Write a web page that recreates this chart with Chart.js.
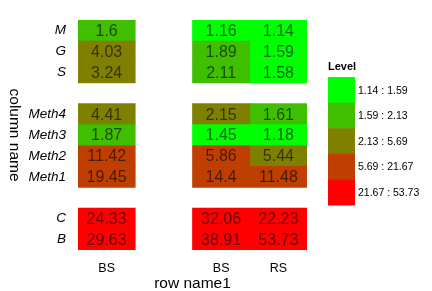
<!DOCTYPE html>
<html>
<head>
<meta charset="utf-8">
<script src="https://cdn.jsdelivr.net/npm/chart.js@4/dist/chart.umd.min.js"></script>
<style>
  html, body { margin: 0; padding: 0; background: #ffffff; }
  #wrap { width: 432px; height: 291px; }
</style>
</head>
<body>
<div id="wrap"><canvas id="c" width="432" height="291"></canvas></div>
<script>
// ---- data ----
const rowLabels = ['M', 'G', 'S', '', 'Meth4', 'Meth3', 'Meth2', 'Meth1', '', 'C', 'B'];
const xTickLabels = ['BS', '', 'BS', 'RS'];
const columnSlots = [0, 2, 3];           // slot of each data column on the x axis
const leftBS  = [1.6, 4.03, 3.24, null, 4.41, 1.87, 11.42, 19.45, null, 24.33, 29.63];
const rightBS = [1.16, 1.89, 2.11, null, 2.15, 1.45, 5.86, 14.4, null, 32.06, 38.91];
const rightRS = [1.14, 1.59, 1.58, null, 1.61, 1.18, 5.44, 11.48, null, 22.23, 53.73];
const levelBreaks = [1.14, 1.59, 2.13, 5.69, 21.67, 53.73];
const levelColors = ['#00FF00', '#3FBF00', '#7F7F00', '#BF3F00', '#FF0000'];
const xTitle = 'row name1';
const yTitle = 'column name';
const legendTitle = 'Level';

const FONT = '"Liberation Sans", Arial, Helvetica, sans-serif';
Chart.defaults.color = '#000';
Chart.defaults.font.family = FONT;

function levelOf(v) {
  for (let i = 0; i < levelColors.length; i++) {
    if (v <= levelBreaks[i + 1]) return i;
  }
  return levelColors.length - 1;
}

const columns = [leftBS, rightBS, rightRS];
const datasets = columns.map((vals, ci) => ({
  label: 'col' + ci,
  data: vals.map(v => v == null ? null : [columnSlots[ci] - 0.5, columnSlots[ci] + 0.5]),
  values: vals,
  backgroundColor: vals.map(v => v == null ? 'rgba(0,0,0,0)' : levelColors[levelOf(v)]),
  borderWidth: 0,
  borderSkipped: false,
  barPercentage: 1,
  categoryPercentage: 1,
  grouped: false
}));

const cellText = {
  id: 'cellText',
  afterDatasetsDraw(chart) {
    const ctx = chart.ctx;
    ctx.save();
    ctx.font = '16px ' + FONT;
    ctx.textAlign = 'center';
    ctx.textBaseline = 'middle';
    ctx.fillStyle = 'rgba(0,0,0,0.6)';
    chart.data.datasets.forEach((ds, di) => {
      const meta = chart.getDatasetMeta(di);
      meta.data.forEach((el, i) => {
        const v = ds.values[i];
        if (v == null) return;
        const p = el.getCenterPoint();
        ctx.fillText(String(v), p.x, p.y + 1);
      });
    });
    ctx.restore();
  }
};

const extras = {
  id: 'extras',
  afterDraw(chart) {
    const ctx = chart.ctx;
    const ca = chart.chartArea;
    ctx.save();
    // y axis title, rotated clockwise
    ctx.font = '15.5px ' + FONT;
    ctx.fillStyle = '#000';
    ctx.textAlign = 'center';
    ctx.textBaseline = 'middle';
    ctx.translate(14, (ca.top + ca.bottom) / 2);
    ctx.rotate(Math.PI / 2);
    ctx.fillText(yTitle, 0, 0);
    ctx.restore();

    // legend
    ctx.save();
    const lx = 328, ly = 77, bw = 27, bh = 25.6;
    ctx.font = 'bold 11px ' + FONT;
    ctx.fillStyle = '#000';
    ctx.textAlign = 'left';
    ctx.textBaseline = 'middle';
    ctx.fillText(legendTitle, lx, 67);
    ctx.font = '10.5px ' + FONT;
    levelColors.forEach((col, i) => {
      ctx.fillStyle = col;
      ctx.fillRect(lx, ly + i * bh, bw, bh + 0.5);
      ctx.fillStyle = '#000';
      ctx.fillText(levelBreaks[i] + ' : ' + levelBreaks[i + 1], lx + bw + 3, ly + i * bh + bh / 2 + 1);
    });
    ctx.restore();
  }
};

new Chart(document.getElementById('c'), {
  type: 'bar',
  data: { labels: rowLabels, datasets },
  options: {
    indexAxis: 'y',
    responsive: false,
    animation: false,
    events: [],
    layout: { padding: { left: 0, right: 125, top: 17, bottom: 0 } },
    plugins: { legend: { display: false }, tooltip: { enabled: false } },
    scales: {
      x: {
        type: 'linear',
        min: -0.5,
        max: 3.5,
        grid: { display: false, drawTicks: false },
        border: { display: false },
        afterBuildTicks(scale) {
          scale.ticks = columnSlots.map(v => ({ value: v }));
        },
        afterFit(scale) { scale.height = 41; },
        ticks: {
          autoSkip: false,
          maxRotation: 0,
          padding: 11,
          font: { size: 12.5, family: FONT },
          color: '#000',
          callback: (v) => xTickLabels[v] || ''
        },
        title: {
          display: true,
          text: xTitle,
          color: '#000',
          padding: 0,
          font: { size: 15.5, family: FONT, lineHeight: 1 }
        }
      },
      y: {
        type: 'category',
        grid: { display: false, drawTicks: false },
        border: { display: false },
        afterFit(scale) { scale.width = 78; },
        ticks: {
          autoSkip: false,
          padding: 12,
          font: { size: 13.5, style: 'italic', family: FONT },
          color: '#000'
        }
      }
    }
  },
  plugins: [cellText, extras]
});
</script>
</body>
</html>
